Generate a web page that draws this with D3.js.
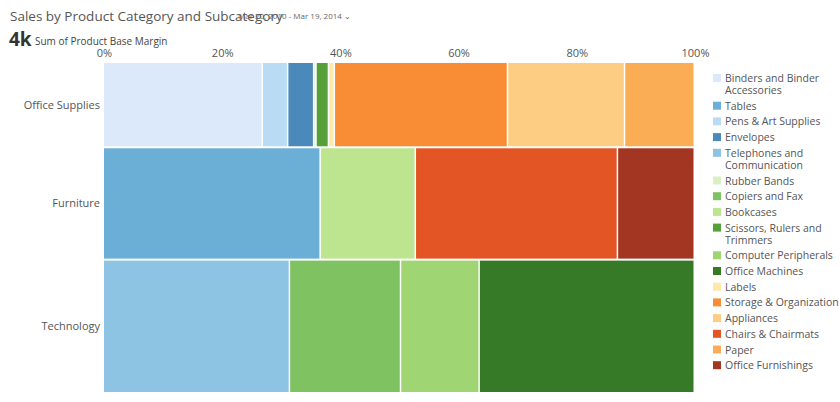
<!DOCTYPE html>
<html>
<head>
<script src="https://d3js.org/d3.v7.min.js"></script>
<style>
  body { margin: 0; background: #fff; font-family: "Open Sans", sans-serif; }
  text { fill: #555; }
</style>
</head>
<body>
<svg id="chart" width="840" height="402"></svg>
<script>
// categories and their totals (sum of product base margin)
const categories = ['Office Supplies', 'Furniture', 'Technology'];
const categoryTotals = [1025, 1358, 1617];

// subcategory shares per category, in percent, left to right
const officeSubs = ['Binders and Binder Accessories', 'Pens & Art Supplies', 'Envelopes', 'Rubber Bands',
                    'Scissors, Rulers and Trimmers', 'Labels', 'Storage & Organization', 'Appliances', 'Paper'];
const officeShares = [26.9, 4.3, 4.4, 0.4, 2.1, 1.0, 29.3, 19.8, 11.8];
const furnitureSubs = ['Tables', 'Bookcases', 'Chairs & Chairmats', 'Office Furnishings'];
const furnitureShares = [36.7, 16.1, 34.2, 13.0];
const techSubs = ['Telephones and Communication', 'Copiers and Fax', 'Computer Peripherals', 'Office Machines'];
const techShares = [31.5, 18.8, 13.3, 36.4];

const legendOrder = ['Binders and Binder Accessories', 'Tables', 'Pens & Art Supplies', 'Envelopes',
  'Telephones and Communication', 'Rubber Bands', 'Copiers and Fax', 'Bookcases',
  'Scissors, Rulers and Trimmers', 'Computer Peripherals', 'Office Machines', 'Labels',
  'Storage & Organization', 'Appliances', 'Chairs & Chairmats', 'Paper', 'Office Furnishings'];
const legendColors = ['#dbe9fa', '#6baed6', '#b9dcf4', '#4a89b9', '#8dc3e3', '#d9f0c4', '#7fc261',
  '#bde58f', '#56a03a', '#9fd573', '#367a28', '#fde9a9', '#f98d35', '#fdcd84', '#e35525',
  '#fbad56', '#a33523'];
const xTicks = [0, 20, 40, 60, 80, 100];

const svg = d3.select('#chart');
const color = d3.scaleOrdinal().domain(legendOrder).range(legendColors);

svg.append('text').attr('x', 10).attr('y', 21).style('font-size', '13.5px').style('fill', '#555')
  .text('Sales by Product Category and Subcategory');
svg.append('text').attr('x', 238).attr('y', 19).style('font-size', '8px').style('fill', '#666')
  .text('Mar 20, 2010 - Mar 19, 2014 \u2304');
svg.append('text').attr('x', 9).attr('y', 46).style('font-size', '19px').style('font-weight', 'bold')
  .style('fill', '#333').text('4k');
svg.append('text').attr('x', 35).attr('y', 45).style('font-size', '10px').style('fill', '#444')
  .text('Sum of Product Base Margin');

const x = d3.scaleLinear().domain([0, 100]).range([104, 695]);
const plotTop = 63, plotBottom = 392, gap = 2;
const total = d3.sum(categoryTotals);
const h = d3.scaleLinear().domain([0, total]).range([0, plotBottom - plotTop - gap * (categories.length - 1)]);

const axis = svg.append('g').attr('transform', `translate(0,${plotTop - 3})`)
  .call(d3.axisTop(x).tickValues(xTicks).tickFormat(d => d + '%').tickSize(0));
axis.select('.domain').remove();
axis.selectAll('text').style('font-size', '11px').style('fill', '#555').attr('font-family', 'Open Sans');

const rows = [
  { subs: officeSubs, shares: officeShares },
  { subs: furnitureSubs, shares: furnitureShares },
  { subs: techSubs, shares: techShares }
];

let y0 = plotTop;
categories.forEach((cat, i) => {
  const rh = h(categoryTotals[i]);
  const r = rows[i];
  let acc = 0;
  const segs = r.subs.map((s, j) => { const d = { sub: s, start: acc, end: acc + r.shares[j] }; acc += r.shares[j]; return d; });
  const sc = 100 / acc;
  svg.append('g').selectAll('rect').data(segs).enter().append('rect')
    .attr('x', d => x(d.start * sc))
    .attr('width', d => Math.max(0.5, x(d.end * sc) - x(d.start * sc) - 1.5))
    .attr('y', y0).attr('height', rh)
    .attr('fill', d => color(d.sub));
  svg.append('text').attr('x', 100).attr('y', y0 + rh / 2 + 4).attr('text-anchor', 'end')
    .style('font-size', '11px').style('fill', '#555').text(cat);
  y0 += rh + gap;
});

// legend
const lines = {
  'Binders and Binder Accessories': ['Binders and Binder', 'Accessories'],
  'Telephones and Communication': ['Telephones and', 'Communication'],
  'Scissors, Rulers and Trimmers': ['Scissors, Rulers and', 'Trimmers']
};
let ly = 82;
legendOrder.forEach(name => {
  const g = svg.append('g');
  g.append('rect').attr('x', 713).attr('y', ly - 8).attr('width', 8).attr('height', 8).attr('fill', color(name));
  const parts = lines[name] || [name];
  parts.forEach((p, k) => {
    g.append('text').attr('x', 725).attr('y', ly + k * 12).style('font-size', '10.5px').style('fill', '#555').text(p);
  });
  ly += parts.length > 1 ? 27.7 : 15.7;
});
</script>
</body>
</html>
